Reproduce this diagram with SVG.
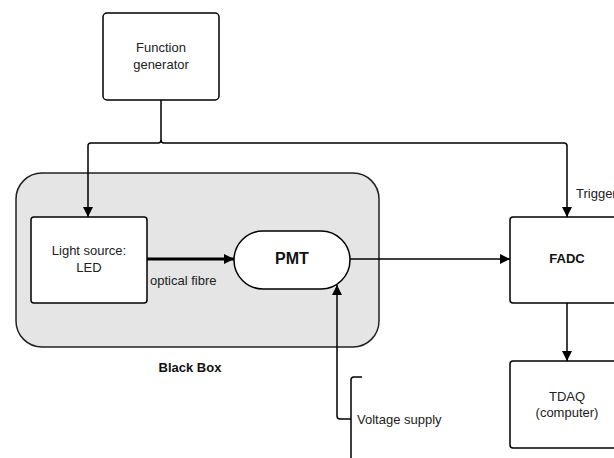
<svg xmlns="http://www.w3.org/2000/svg" width="614" height="458" viewBox="0 0 614 458">
  <defs>
    <marker id="arrow" viewBox="0 0 10 10" refX="10" refY="5" markerWidth="6" markerHeight="6" markerUnits="userSpaceOnUse" orient="auto">
      <path d="M0,0 L10,5 L0,10 z" fill="#000"/>
    </marker>
    <marker id="arrowBig" viewBox="0 0 10 10" refX="10" refY="5" markerWidth="12" markerHeight="10" markerUnits="userSpaceOnUse" orient="auto">
      <path d="M0,0 L10,5 L0,10 z" fill="#000"/>
    </marker>
    <marker id="arrowMed" viewBox="0 0 10 10" refX="10" refY="5" markerWidth="12" markerHeight="10" markerUnits="userSpaceOnUse" orient="auto">
      <path d="M0,0 L10,5 L0,10 z" fill="#000"/>
    </marker>
  </defs>
  <style>
    .box { fill: #ffffff; stroke: #000; stroke-width: 1.5; }
    .wire { fill: none; stroke: #000; stroke-width: 1.5; }
    .lbl { font-family: "Liberation Sans", Arial, sans-serif; font-size: 13px; fill: #222; }
    .bold { font-family: "Liberation Sans", Arial, sans-serif; font-weight: bold; fill: #111; }
    .mid { text-anchor: middle; dominant-baseline: central; }
  </style>

  <!-- enclosure -->
  <g id="black-box">
    <rect x="16" y="173" width="363" height="174" rx="26" ry="26" fill="#e5e5e5" stroke="#222" stroke-width="1.5"/>
    <text class="bold mid" x="190" y="367" font-size="13">Black Box</text>
  </g>

  <g id="function-generator">
    <rect class="box" x="103" y="13" width="116" height="87" rx="4"/>
    <text class="lbl mid" x="161" y="47">Function</text>
    <text class="lbl mid" x="161" y="64">generator</text>
  </g>

  <g id="led">
    <rect class="box" x="31" y="217" width="116" height="86" rx="3"/>
    <text class="lbl mid" x="89" y="250">Light source:</text>
    <text class="lbl mid" x="89" y="267">LED</text>
  </g>

  <g id="pmt">
    <rect class="box" x="234" y="231" width="116" height="58" rx="29" ry="29"/>
    <text class="bold mid" x="292" y="258" font-size="16">PMT</text>
  </g>

  <g id="fadc">
    <rect class="box" x="510" y="217" width="116" height="86" rx="3"/>
    <text class="bold mid" x="567" y="258" font-size="13">FADC</text>
  </g>

  <g id="tdaq">
    <rect class="box" x="510" y="361" width="116" height="87" rx="3"/>
    <text class="lbl mid" x="567" y="396">TDAQ</text>
    <text class="lbl mid" x="567" y="412">(computer)</text>
  </g>

  <g id="voltage-supply">
    <path class="wire" d="M351,458 V380 Q351,377 354,377 H362"/>
    <text class="lbl" x="357" y="419" dominant-baseline="central">Voltage supply</text>
  </g>

  <g id="connectors">
    <!-- function generator trunk splitting to LED and FADC trigger -->
    <path class="wire" d="M161,100 V140 Q161,143 158,143 H91 Q88,143 88,146 V217" marker-end="url(#arrowMed)"/>
    <path class="wire" d="M161,140 Q161,143 164,143 H564 Q567,143 567,146 V217" marker-end="url(#arrowMed)"/>
    <text class="lbl" x="576" y="193" dominant-baseline="central">Trigger</text>

    <!-- optical fibre -->
    <path d="M147,259 H234" fill="none" stroke="#000" stroke-width="3" marker-end="url(#arrowBig)"/>
    <text class="lbl" x="150" y="280" dominant-baseline="central">optical fibre</text>

    <!-- PMT signal to FADC -->
    <path class="wire" d="M350,259 H510" marker-end="url(#arrowMed)"/>

    <!-- FADC to TDAQ -->
    <path class="wire" d="M567,303 V361" marker-end="url(#arrowMed)"/>

    <!-- high voltage to PMT -->
    <path class="wire" d="M351,419 H340 Q337,419 337,416 V285" marker-end="url(#arrowMed)"/>
  </g>
</svg>
